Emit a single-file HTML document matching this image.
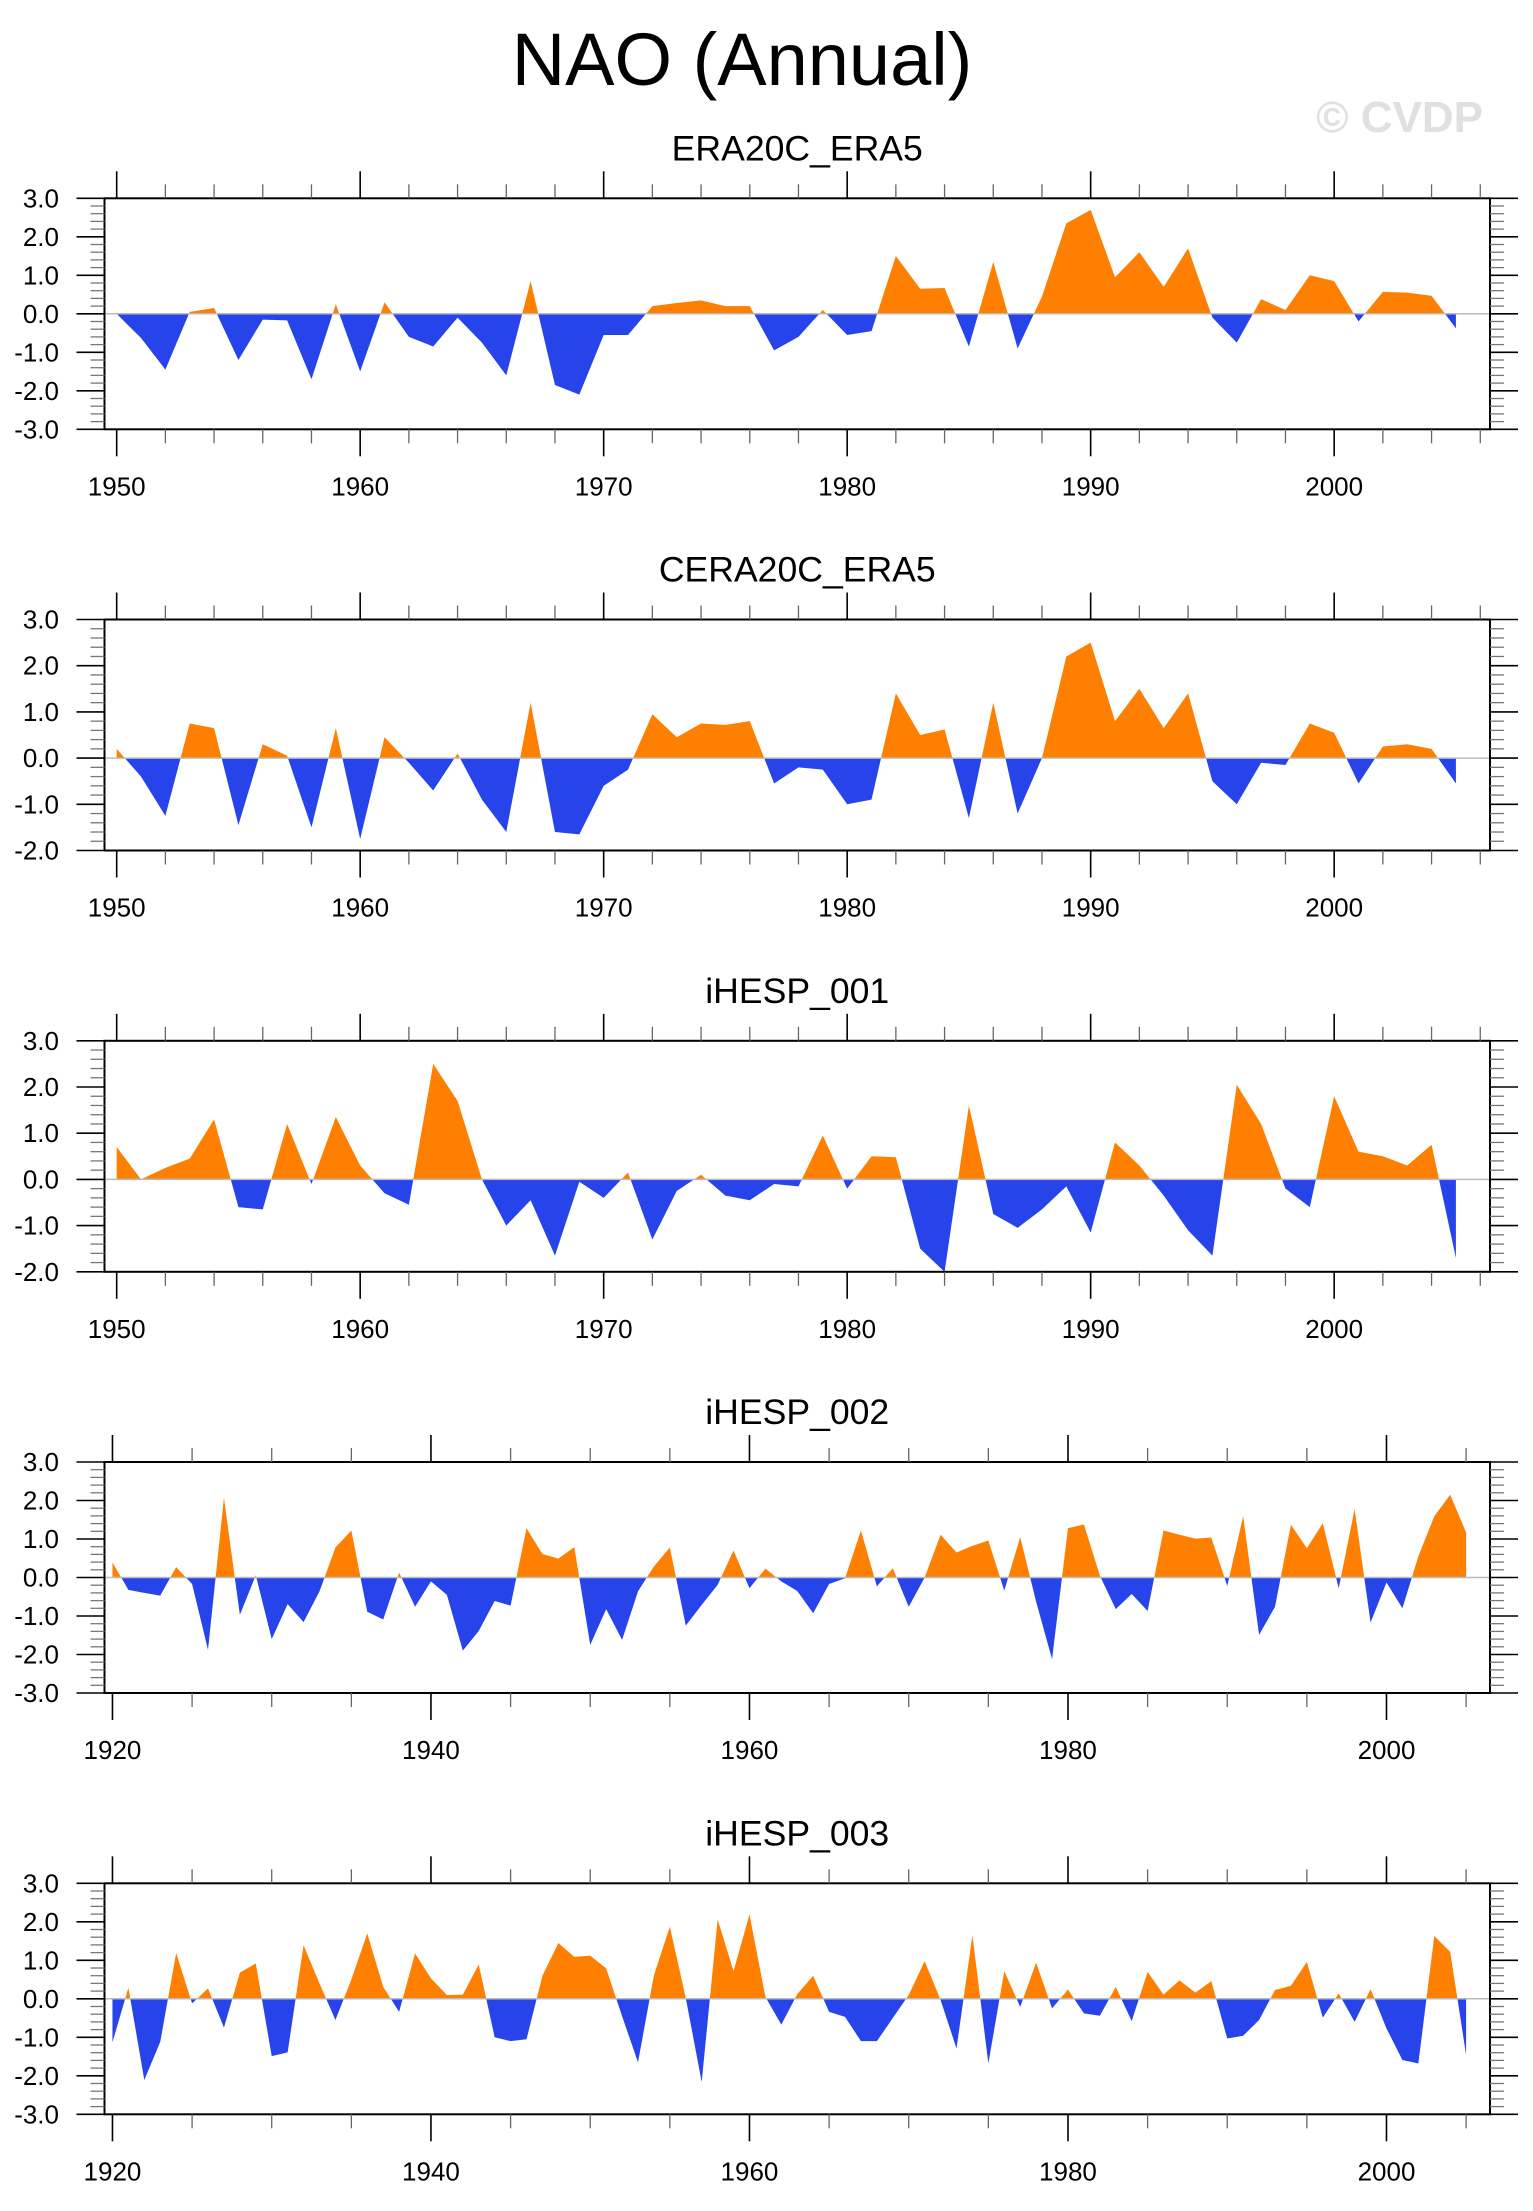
<!DOCTYPE html>
<html><head><meta charset="utf-8"><style>
html,body{margin:0;padding:0;background:#fff;}
svg{display:block;font-family:"Liberation Sans",Arial,sans-serif;}
</style></head><body>
<svg id="chart" width="1533" height="2211" viewBox="0 0 1533 2211" xmlns="http://www.w3.org/2000/svg">
<text x="742" y="85" font-size="74" text-anchor="middle" fill="#000">NAO (Annual)</text>
<text x="1483" y="132" font-size="44" font-weight="bold" text-anchor="end" fill="#e0e0e0">© CVDP</text>
</svg>
<script>
const titles = ["ERA20C_ERA5","CERA20C_ERA5","iHESP_001","iHESP_002","iHESP_003"];
const startYears = [1950,1950,1950,1920,1920];
const era20cEra5 = [0.0,-0.63,-1.45,0.05,0.15,-1.2,-0.15,-0.17,-1.7,0.25,-1.5,0.3,-0.6,-0.85,-0.1,-0.75,-1.6,0.85,-1.85,-2.1,-0.55,-0.55,0.2,0.28,0.35,0.2,0.2,-0.95,-0.6,0.1,-0.55,-0.45,1.5,0.65,0.67,-0.85,1.35,-0.9,0.45,2.35,2.7,0.95,1.6,0.7,1.7,-0.1,-0.75,0.38,0.1,1.0,0.85,-0.2,0.57,0.55,0.47,-0.38];
const cera20cEra5 = [0.2,-0.4,-1.25,0.75,0.65,-1.45,0.3,0.05,-1.5,0.65,-1.75,0.45,-0.1,-0.7,0.1,-0.9,-1.6,1.2,-1.6,-1.65,-0.6,-0.25,0.95,0.45,0.75,0.72,0.8,-0.55,-0.2,-0.25,-1.0,-0.9,1.4,0.5,0.62,-1.3,1.2,-1.2,0.0,2.2,2.5,0.8,1.5,0.65,1.4,-0.5,-1.0,-0.1,-0.15,0.75,0.55,-0.55,0.25,0.3,0.2,-0.55];
const ihesp001 = [0.7,0.0,0.25,0.45,1.3,-0.6,-0.65,1.2,-0.1,1.35,0.3,-0.3,-0.55,2.5,1.7,0.0,-1.0,-0.45,-1.65,-0.05,-0.4,0.15,-1.3,-0.25,0.1,-0.35,-0.45,-0.1,-0.15,0.95,-0.2,0.5,0.48,-1.5,-2.0,1.6,-0.75,-1.05,-0.65,-0.15,-1.15,0.8,0.3,-0.35,-1.1,-1.65,2.05,1.2,-0.2,-0.6,1.8,0.6,0.5,0.3,0.75,-1.7];
const ihesp002 = [0.39,-0.32,-0.4,-0.47,0.27,-0.17,-1.88,2.07,-0.97,0.06,-1.6,-0.69,-1.16,-0.36,0.78,1.22,-0.89,-1.09,0.13,-0.76,-0.1,-0.45,-1.9,-1.39,-0.61,-0.73,1.28,0.61,0.49,0.79,-1.75,-0.82,-1.62,-0.36,0.29,0.78,-1.25,-0.71,-0.19,0.7,-0.28,0.23,-0.1,-0.35,-0.93,-0.17,-0.02,1.22,-0.23,0.24,-0.76,0.0,1.11,0.65,0.82,0.96,-0.34,1.05,-0.63,-2.12,1.28,1.38,0.05,-0.82,-0.43,-0.87,1.22,1.11,1.01,1.04,-0.22,1.59,-1.49,-0.76,1.37,0.76,1.41,-0.28,1.78,-1.17,-0.13,-0.8,0.55,1.59,2.15,1.17];
const ihesp003 = [-1.13,0.29,-2.11,-1.12,1.19,-0.12,0.27,-0.75,0.68,0.92,-1.49,-1.39,1.39,0.4,-0.55,0.5,1.7,0.31,-0.34,1.18,0.53,0.1,0.11,0.89,-1.0,-1.1,-1.05,0.6,1.45,1.09,1.12,0.79,-0.45,-1.65,0.61,1.87,0.02,-2.16,2.06,0.72,2.19,0.05,-0.67,0.12,0.6,-0.34,-0.47,-1.1,-1.1,-0.5,0.1,0.98,-0.03,-1.29,1.65,-1.68,0.72,-0.21,0.94,-0.25,0.24,-0.38,-0.44,0.31,-0.58,0.7,0.11,0.48,0.16,0.46,-1.03,-0.96,-0.55,0.23,0.34,0.96,-0.49,0.14,-0.6,0.25,-0.77,-1.59,-1.68,1.63,1.22,-1.46];
const yMaxs = [3,3,3,3,3];
const yMins = [-3,-2,-2,-3,-3];
const xMaxs = [2006.4,2006.4,2006.4,2006.5,2006.5];
const xMajorSteps = [10,10,10,20,20];
const xMinorSteps = [2,2,2,5,5];
const series = [era20cEra5,cera20cEra5,ihesp001,ihesp002,ihesp003];

const NS = "http://www.w3.org/2000/svg";
const svg = document.getElementById("chart");
function mk(tag, attrs, parent){
  const e = document.createElementNS(NS, tag);
  for (const k in attrs) e.setAttribute(k, attrs[k]);
  (parent||svg).appendChild(e);
  return e;
}
const L = 104.5, R = 1490, H = 231;
const tops = [198.3, 619.5, 1040.8, 1462, 1883.3];

series.forEach((vals, p) => {
  const top = tops[p], bot = top + H;
  const y0 = startYears[p];
  const xMin = y0 - 0.5;
  const xMax = xMaxs[p];
  const xs = yr => L + (yr - xMin) / (xMax - xMin) * (R - L);
  const ys = v => top + (yMaxs[p] - v) / (yMaxs[p] - yMins[p]) * H;
  const g = mk("g", {});
  
  

  const t = mk("text", {x:(L+R)/2, y:top-38, "font-size":35.6, "text-anchor":"middle", fill:"#000"}, g);
  t.textContent = titles[p];
  
  

  const zy = ys(0);
  let pts = `${xs(y0)},${zy} `;
  vals.forEach((v,i)=>{ pts += `${xs(y0+i)},${ys(v)} `; });
  pts += `${xs(y0+vals.length-1)},${zy}`;
  const cidA = "ca"+p, cidB = "cb"+p;
  const defs = mk("defs", {}, g);
  const cA = mk("clipPath", {id:cidA}, defs);
  mk("rect", {x:L, y:top, width:R-L, height:zy-top}, cA);
  const cB = mk("clipPath", {id:cidB}, defs);
  mk("rect", {x:L, y:zy, width:R-L, height:bot-zy}, cB);
  const pa = mk("polygon", {points:pts, fill:"#ff8000", "clip-path":`url(#${cidA})`}, g);
  
  
  const pb = mk("polygon", {points:pts, fill:"#2644ea", "clip-path":`url(#${cidB})`}, g);
  
  
  const zl = mk("line", {x1:L, x2:R, y1:zy, y2:zy, stroke:"#bbb", "stroke-width":1.5}, g);
  
  

  const fr = mk("rect", {x:L, y:top, width:R-L, height:H, fill:"none", stroke:"#000", "stroke-width":2}, g);
  
  

  const lastYr = Math.floor(xMax);
  for (let yr = y0; yr <= lastYr; yr += xMinorSteps[p]) {
    const x = xs(yr);
    const major = (yr - y0) % xMajorSteps[p] === 0;
    const len = major ? 27 : 14;
    mk("line", {x1:x, x2:x, y1:top, y2:top-len, stroke: major?"#000":"#666", "stroke-width":major?1.6:1.3}, g);
    mk("line", {x1:x, x2:x, y1:bot, y2:bot+len, stroke: major?"#000":"#666", "stroke-width":major?1.6:1.3}, g);
    if (major) {
      const lb = mk("text", {x:x, y:bot+66, "font-size":26, "text-anchor":"middle", fill:"#000"}, g);
      lb.textContent = yr;
      
      
    }
  }
  const n = Math.round((yMaxs[p]-yMins[p])/0.2);
  for (let k = 0; k <= n; k++) {
    const v = yMins[p] + k*0.2;
    const y = ys(v);
    const major = k % 5 === 0;
    const len = major ? 28 : 14;
    mk("line", {x1:L, x2:L-len, y1:y, y2:y, stroke: major?"#000":"#777", "stroke-width":major?1.6:1.3}, g);
    mk("line", {x1:R, x2:R+len, y1:y, y2:y, stroke: major?"#000":"#777", "stroke-width":major?1.6:1.3}, g);
    if (major) {
      const lb = mk("text", {x:59, y:y+9, "font-size":26, "text-anchor":"end", fill:"#000"}, g);
      lb.textContent = (Math.round(v*10)/10).toFixed(1);
      
      
    }
  }
});
</script>
</body></html>
